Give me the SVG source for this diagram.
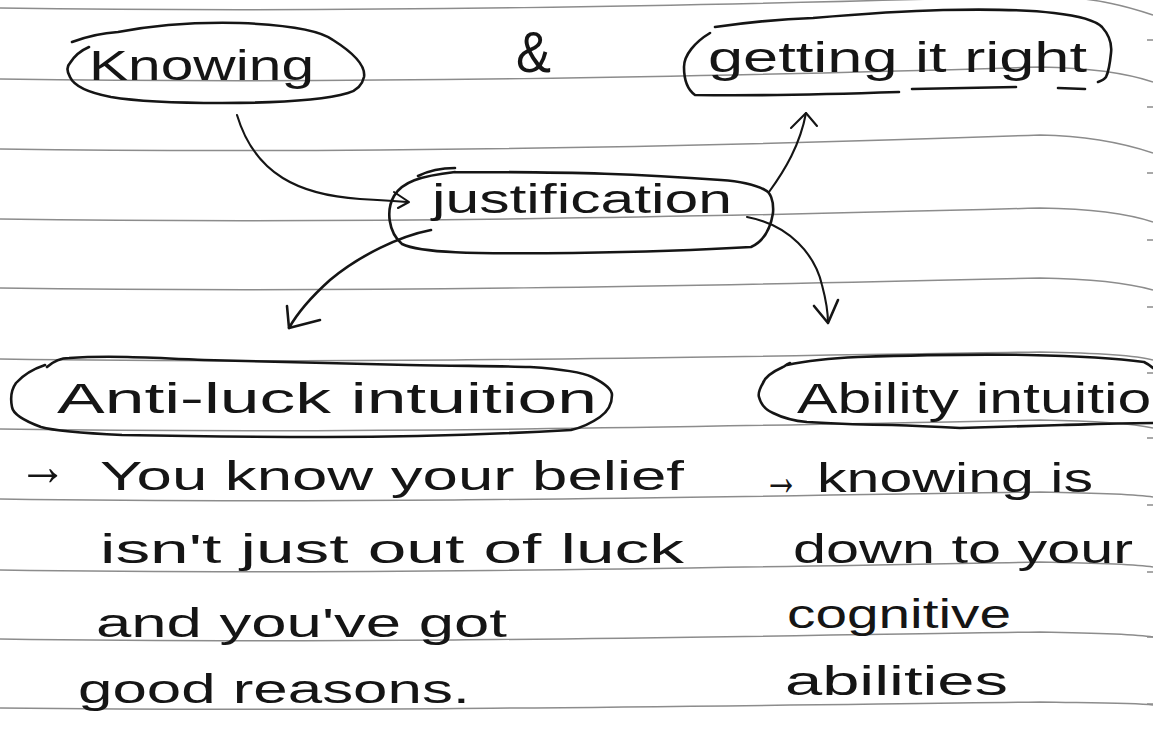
<svg xmlns="http://www.w3.org/2000/svg" width="1153" height="742" viewBox="0 0 1153 742">
<style>
.rule{stroke:#8c8c8c;stroke-width:1.5;fill:none}
.tick{stroke:#8c8c8c;stroke-width:1.4}
.ink{stroke:#151515;stroke-width:2.6;fill:none;stroke-linecap:round;stroke-linejoin:round}
.thin{stroke-width:2.1}
.t{font-family:"Liberation Sans",Arial,sans-serif;fill:#151515}
.h{font-size:42px}
.b{font-size:40px}
</style>
<rect width="1153" height="742" fill="#ffffff"/>
<g id="paper">
<path class="rule" d="M0,8 C350,13 700,6 1040,-4 C1100,-3 1135,9 1153,15"/>
<path class="rule" d="M0,79 C350,84 700,77 1040,67 C1100,68 1135,76 1153,82"/>
<path class="rule" d="M0,149 C350,154 700,147 1040,135 C1100,136 1135,147 1153,153"/>
<path class="rule" d="M0,219 C350,224 700,217 1040,208 C1100,209 1135,216 1153,222"/>
<path class="rule" d="M0,288 C350,293 700,286 1040,278 C1100,279 1135,285 1153,290"/>
<path class="rule" d="M0,359 C350,364 700,357 1040,352 C1100,353 1135,355 1153,360"/>
<path class="rule" d="M0,429 C350,434 700,427 1040,420 C1100,421 1135,424 1153,428"/>
<path class="rule" d="M0,499 C350,504 700,497 1040,492 C1100,493 1135,494 1153,497"/>
<path class="rule" d="M0,570 C350,575 700,568 1040,562 C1100,563 1135,564 1153,567"/>
<path class="rule" d="M0,639 C350,644 700,637 1040,632 C1100,633 1135,634 1153,637"/>
<path class="rule" d="M0,708 C350,712 700,706 1040,702 C1100,703 1135,703 1153,705"/>
<path class="tick" d="M1147,40H1153M1147,107H1153M1147,173H1153M1147,240H1153M1147,307H1153M1147,373H1153M1147,438H1153M1147,505H1153M1147,572H1153M1147,637H1153M1147,704H1153"/>
</g>
<g id="node-knowing">
<path class="ink" d="M72,42 C88,36 102,33 118,32 C160,24 200,22 240,23 C290,25 320,30 333,40 C352,52 366,65 364,77 C362,86 355,91 348,93 C320,101 270,103 222,103 C170,103 135,101 111,97 C90,93 74,86 70,77 C66,70 67,66 70,63 C75,55 82,50 89,47"/>
<text class="t h" x="89" y="80" textLength="225" lengthAdjust="spacingAndGlyphs">Knowing</text>
</g>
<g id="amp">
<text class="t" x="516" y="72" font-size="58" textLength="35" lengthAdjust="spacingAndGlyphs">&amp;</text>
</g>
<g id="node-getting">
<path class="ink" d="M715,27 C750,22 780,19 813,18 C860,14 900,11 943,10 C990,9 1030,10 1054,13 C1080,16 1096,21 1102,27 C1110,36 1112,45 1111,53 C1110,63 1109,71 1106,77 C1104,80 1101,81 1098,82"/>
<path class="ink" d="M710,33 C695,42 684,55 684,67 C684,80 688,90 695,95 C760,96 840,94 899,92"/>
<path class="ink" d="M912,89 L1016,87 M1058,88 L1085,89"/>
<text class="t h" x="708" y="72" textLength="379" lengthAdjust="spacingAndGlyphs">getting it right</text>
</g>
<g id="node-justification">
<path class="ink" d="M418,176 C430,170 442,168 455,168 M455,172 C420,176 402,182 394,196 C386,210 388,232 402,244 C420,253 470,254 573,253 C640,252 700,250 751,247 C762,242 770,232 773,213 C774,200 770,192 765,190 C752,183 735,181 721,180 C640,174 580,172 455,172"/>
<text class="t b" x="432" y="213" textLength="300" lengthAdjust="spacingAndGlyphs">justification</text>
</g>
<g id="node-antiluck">
<path class="ink" d="M47,367 C55,360 62,358 69,358 C110,355 160,358 204,360 C300,362 360,364 408,365 C460,366 500,366 530,367 C560,369 582,372 592,377 C606,384 612,390 612,395 C612,405 607,412 600,417 C590,424 580,428 571,430 C500,434 420,437 326,437 C240,437 170,436 122,435 C80,433 55,431 41,427 C22,420 13,414 12,407 C10,397 11,390 16,383 C24,374 33,369 45,365"/>
<text class="t h" x="57" y="413" textLength="540" lengthAdjust="spacingAndGlyphs">Anti-luck intuition</text>
</g>
<g id="node-ability">
<path class="ink" d="M790,363 C785,365 784,367 783,367 C772,372 765,377 763,383 C759,390 758,394 759,397 C761,405 766,410 773,413 C785,419 796,421 807,422 C840,424 870,425 892,425 C920,426 940,427 960,428 C1000,427 1030,426 1062,425 C1100,424 1130,423 1153,423"/>
<path class="ink" d="M787,365 C810,360 835,358 858,357 C920,355 980,354 1028,355 C1080,356 1115,358 1144,362 C1148,364 1151,366 1153,368"/>
<text class="t h" x="797" y="413" textLength="388" lengthAdjust="spacingAndGlyphs">Ability intuition</text>
</g>
<g id="connectors">
<path class="ink thin" d="M237,115 C255,175 300,195 360,199 C380,200 395,201 407,202"/>
<path class="ink thin" d="M394,192 L409,202 L398,208"/>
<path class="ink thin" d="M769,192 C785,170 800,145 806,113"/>
<path class="ink thin" d="M791,128 L806,113 L817,126"/>
<path class="ink" d="M431,230 C400,236 360,255 330,280 C310,298 298,312 289,328"/>
<path class="ink" d="M287,306 L289,328 L320,320"/>
<path class="ink thin" d="M747,217 C790,225 815,255 822,285 C826,300 828,312 828,323"/>
<path class="ink" d="M814,306 L828,323 L838,300"/>
</g>
<g id="note-antiluck">
<text class="t" x="18" y="485" font-size="56" textLength="49" lengthAdjust="spacingAndGlyphs">→</text>
<text class="t b" x="100" y="490" textLength="584" lengthAdjust="spacingAndGlyphs">You know your belief</text>
<text class="t b" x="100" y="563" textLength="584" lengthAdjust="spacingAndGlyphs">isn't just out of luck</text>
<text class="t b" x="96" y="637" textLength="411" lengthAdjust="spacingAndGlyphs">and you've got</text>
<text class="t b" x="78" y="703" textLength="392" lengthAdjust="spacingAndGlyphs">good reasons.</text>
</g>
<g id="note-ability">
<text class="t" x="763" y="495" font-size="56" textLength="36" lengthAdjust="spacingAndGlyphs">→</text>
<text class="t b" x="817" y="492" textLength="276" lengthAdjust="spacingAndGlyphs">knowing is</text>
<text class="t b" x="793" y="563" textLength="340" lengthAdjust="spacingAndGlyphs">down to your</text>
<text class="t b" x="787" y="628" textLength="224" lengthAdjust="spacingAndGlyphs">cognitive</text>
<text class="t b" x="785" y="695" textLength="223" lengthAdjust="spacingAndGlyphs">abilities</text>
</g>
</svg>
